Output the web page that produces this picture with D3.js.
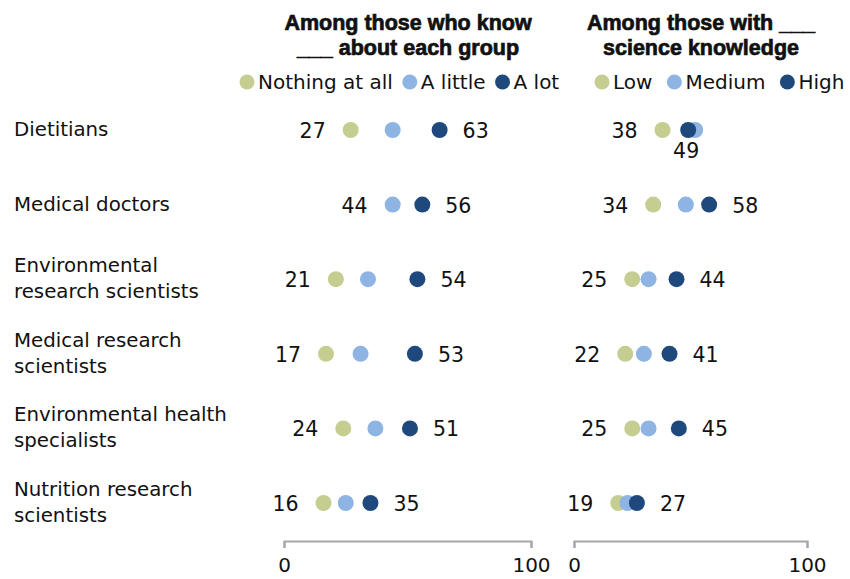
<!DOCTYPE html>
<html>
<head>
<meta charset="utf-8">
<script src="https://cdn.jsdelivr.net/npm/d3@7"></script>
<style>
  body { margin: 0; background: #fff; }
  text { font-family: "DejaVu Sans", sans-serif; fill: #111; }
</style>
</head>
<body>
<svg width="850" height="579"></svg>
<script>
// data
var categories = ["Dietitians", "Medical doctors", "Environmental research scientists",
  "Medical research scientists", "Environmental health specialists", "Nutrition research scientists"];
var categoryLines = [["Dietitians"], ["Medical doctors"], ["Environmental", "research scientists"],
  ["Medical research", "scientists"], ["Environmental health", "specialists"], ["Nutrition research", "scientists"]];

var knowNothing = [27, null, 21, 17, 24, 16];
var knowLittle  = [44, 44, 34, 31, 37, 25];
var knowLot     = [63, 56, 54, 53, 51, 35];

var sciLow    = [38, 34, 25, 22, 25, 19];
var sciMedium = [52, 48, 32, 30, 32, 23];
var sciHigh   = [49, 58, 44, 41, 45, 27];

var leftTitle = ["Among those who know", "___ about each group"];
var rightTitle = ["Among those with ___", "science knowledge"];
var leftKeys = ["Nothing at all", "A little", "A lot"];
var rightKeys = ["Low", "Medium", "High"];
var axisTicks = [0, 100];

var colors = ["#c5cd91", "#8db4e3", "#1f497d"];

var svg = d3.select("svg");

var y = d3.scalePoint().domain(categories).range([130, 503]);

var panels = [
  {x: d3.scaleLinear().domain([0, 100]).range([284, 531]), title: leftTitle, titleX: 408,
   keys: leftKeys, legendX: 247, gap: 17, series: [knowNothing, knowLittle, knowLot]},
  {x: d3.scaleLinear().domain([0, 100]).range([574, 807]), title: rightTitle, titleX: 701,
   keys: rightKeys, legendX: 602, gap: 22, series: [sciLow, sciMedium, sciHigh]}
];

// row labels
svg.append("g").selectAll("text")
  .data(categories)
  .enter().append("text")
  .attr("x", 14)
  .attr("y", function(d) { return y(d) + 6; })
  .style("font-size", "19.8px")
  .each(function(d, i) {
    var lines = categoryLines[i];
    var t = d3.select(this);
    lines.forEach(function(l, j) {
      t.append("tspan").attr("x", 14)
        .attr("dy", j == 0 ? (lines.length > 1 ? -13 : 0) : 26)
        .text(l);
    });
  });

panels.forEach(function(p) {
  var g = svg.append("g");

  // title
  g.append("text")
    .attr("x", p.titleX).attr("y", 30)
    .attr("text-anchor", "middle")
    .style("font-family", "'Liberation Sans', Arial, sans-serif")
    .style("font-weight", "bold").style("font-size", "21.5px")
    .style("stroke", "#111").style("stroke-width", "0.7px")
    .selectAll("tspan").data(p.title).enter().append("tspan")
    .attr("x", p.titleX)
    .attr("dy", function(d, i) { return i ? 24.5 : 0; })
    .text(function(d) { return d; });

  // legend
  var lx = p.legendX;
  p.keys.forEach(function(k, i) {
    g.append("circle").attr("cx", lx).attr("cy", 82).attr("r", 7.5).attr("fill", colors[i]);
    var t = g.append("text").attr("x", lx + 11).attr("y", 89)
      .style("font-size", "20px").text(k);
    lx = lx + 11 + t.node().getComputedTextLength() + p.gap;
  });

  // dots
  p.series.forEach(function(s, si) {
    g.append("g").selectAll("circle")
      .data(categories.map(function(c, i) { return {c: c, v: s[i]}; }).filter(function(d) { return d.v != null; }))
      .enter().append("circle")
      .attr("cx", function(d) { return p.x(d.v); })
      .attr("cy", function(d) { return y(d.c); })
      .attr("r", 8)
      .attr("fill", colors[si]);
  });

  // value labels
  categories.forEach(function(c, i) {
    var vals = p.series.map(function(s) { return s[i]; });
    var first = vals.find(function(v) { return v != null; });
    var last = vals[vals.length - 1];
    var max = d3.max(vals);
    g.append("text")
      .attr("x", p.x(first) - 25).attr("y", y(c) + 8)
      .attr("text-anchor", "end").style("font-size", "20.5px")
      .text(first);
    if (last < max) {
      g.append("text")
        .attr("x", p.x(last) - 2).attr("y", y(c) + 28)
        .attr("text-anchor", "middle").style("font-size", "20.5px")
        .text(last);
    } else {
      g.append("text")
        .attr("x", p.x(last) + 23).attr("y", y(c) + 8)
        .style("font-size", "20.5px")
        .text(last);
    }
  });

  // axis
  var ax = g.append("g").attr("transform", "translate(0,541)")
    .call(d3.axisBottom(p.x).tickValues(axisTicks).tickSize(7).tickPadding(10));
  ax.selectAll("path, line").attr("stroke", "#a6a6a6").attr("stroke-width", 2);
  ax.selectAll("text").style("font-size", "20px")
    .style("font-family", "'DejaVu Sans', sans-serif").attr("fill", "#111");
});
</script>
</body>
</html>
